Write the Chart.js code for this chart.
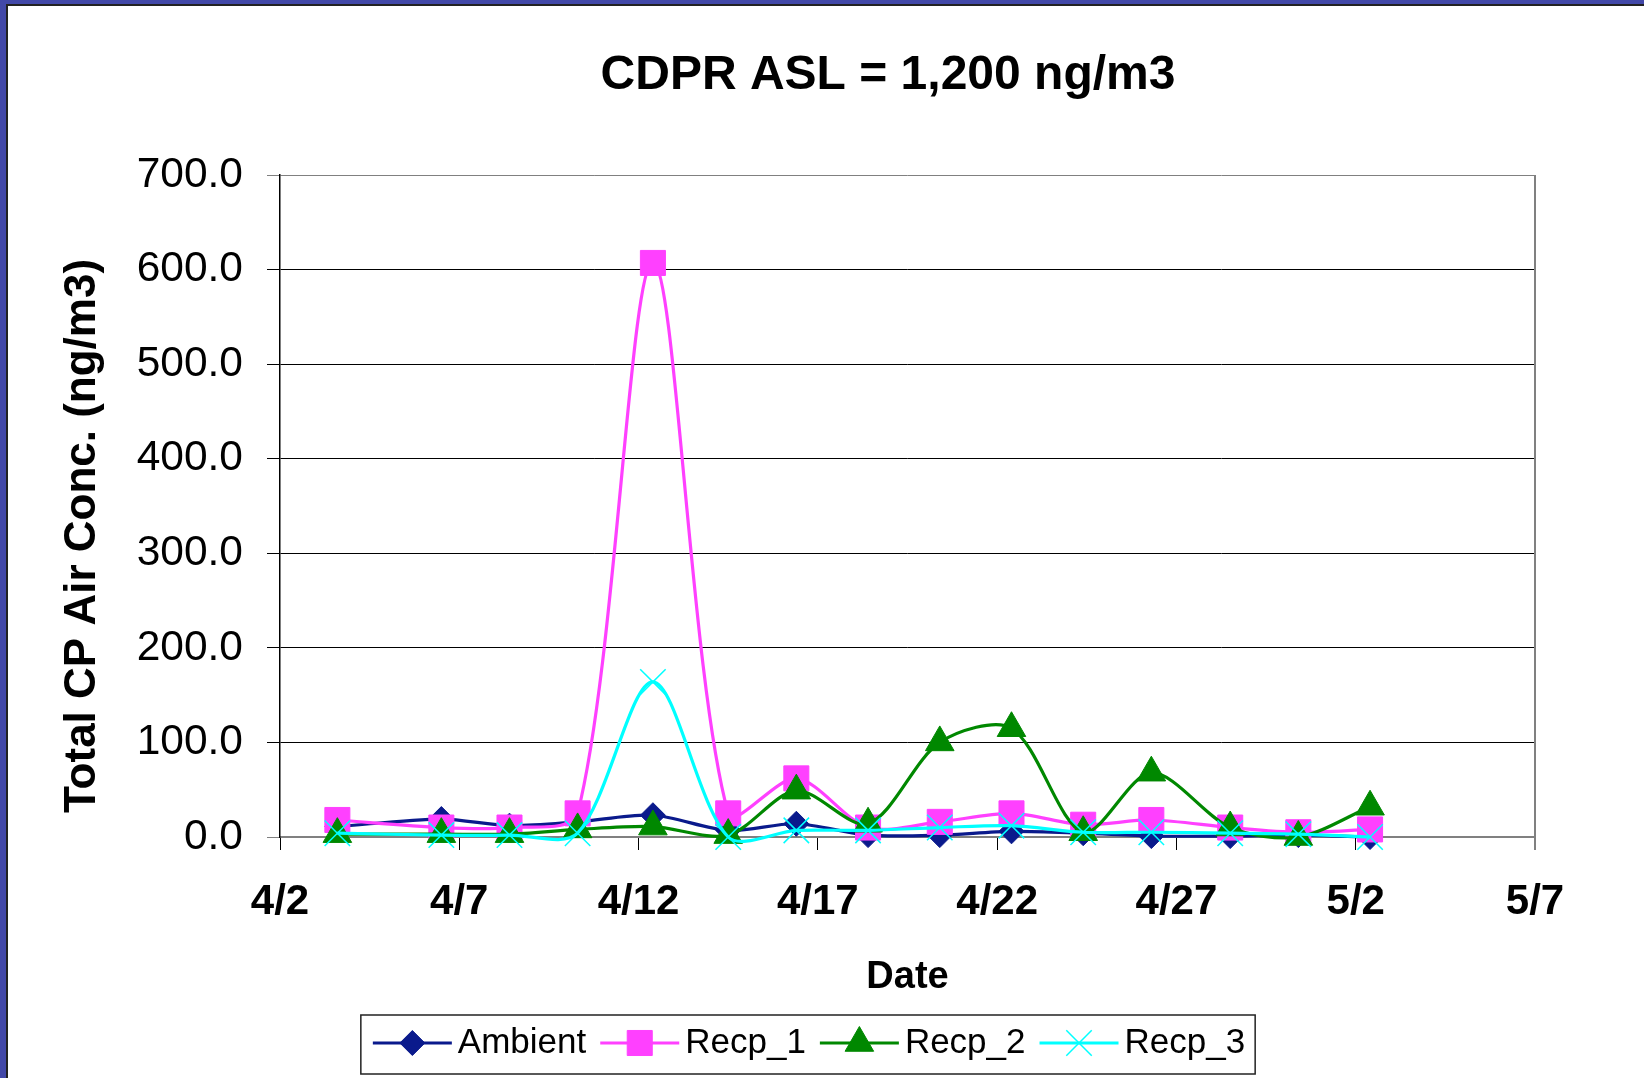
<!DOCTYPE html>
<html>
<head>
<meta charset="utf-8">
<script src="https://cdn.jsdelivr.net/npm/chart.js@4.4.0/dist/chart.umd.min.js"></script>
<style>
html,body{margin:0;padding:0;background:#fff;overflow:hidden;}
#wrap{position:absolute;left:0;top:0;width:1644px;height:1078px;}
canvas{display:block;}
</style>
</head>
<body>
<div id="wrap"><canvas id="c" width="1644" height="1078"></canvas></div>
<script>
// ---- data ----
const dayOffsets = [1.6, 4.5, 6.4, 8.3, 10.4, 12.5, 14.4, 16.4, 18.4, 20.4, 22.4, 24.3, 26.5, 28.4, 30.4]; // days after 4/2
const tickLabels = ['4/2', '4/7', '4/12', '4/17', '4/22', '4/27', '5/2', '5/7'];
const seriesNames = ['Ambient', 'Recp_1', 'Recp_2', 'Recp_3'];
const ambient = [11, 19, 12, 16, 23, 7, 14, 2, 2, 6, 4, 1, 1, 2, 0];
const recp1   = [18, 10, 10, 25, 607, 25, 62, 10, 16, 25, 13, 18, 10, 5, 8];
const recp2   = [3, 3, 3, 8, 11, 2, 49, 14, 100, 115, 5, 68, 10, 0, 32];
const recp3   = [4, 2, 2, 4, 164, 0, 7, 7, 10, 12, 5, 5, 4, 3, 0];

const FONT = "'Liberation Sans', Arial, sans-serif";
const colors = ['#0a1a8c', '#ff40ff', '#008800', '#00ffff'];
const styles = ['rectRot', 'rect', 'triangle', 'crossRot'];
const radii = [12.5, 17.7, 16.5, 18];

const mk = arr => arr.map((v, i) => ({x: dayOffsets[i], y: v}));
const seriesData = [ambient, recp1, recp2, recp3];

const datasets = seriesData.map((arr, i) => ({
  label: seriesNames[i],
  data: mk(arr),
  borderColor: colors[i],
  backgroundColor: colors[i],
  borderWidth: 3.2,
  pointStyle: styles[i],
  pointRadius: radii[i],
  pointHoverRadius: radii[i],
  pointBackgroundColor: colors[i],
  pointBorderColor: colors[i],
  pointBorderWidth: i === 3 ? 1.5 : 1,
  tension: 0.3,
  fill: false,
  clip: false,
  order: 4 - i
}));

function drawMarker(ctx, style, x, y, r, color) {
  ctx.save();
  ctx.fillStyle = color; ctx.strokeStyle = color; ctx.lineWidth = 1;
  ctx.beginPath();
  if (style === 'rectRot') {
    ctx.moveTo(x - r, y); ctx.lineTo(x, y - r); ctx.lineTo(x + r, y); ctx.lineTo(x, y + r); ctx.closePath();
    ctx.fill(); ctx.stroke();
  } else if (style === 'rect') {
    const s = r * Math.SQRT1_2; ctx.rect(x - s, y - s, 2 * s, 2 * s); ctx.fill(); ctx.stroke();
  } else if (style === 'triangle') {
    let a = 0;
    ctx.moveTo(x + Math.sin(a) * r, y - Math.cos(a) * r);
    a += 2 * Math.PI / 3; ctx.lineTo(x + Math.sin(a) * r, y - Math.cos(a) * r);
    a += 2 * Math.PI / 3; ctx.lineTo(x + Math.sin(a) * r, y - Math.cos(a) * r);
    ctx.closePath(); ctx.fill(); ctx.stroke();
  } else {
    const o = r * Math.SQRT1_2; ctx.lineWidth = 1.5;
    ctx.moveTo(x - o, y - o); ctx.lineTo(x + o, y + o);
    ctx.moveTo(x - o, y + o); ctx.lineTo(x + o, y - o); ctx.stroke();
  }
  ctx.restore();
}

const framePlugin = {
  id: 'frame',
  beforeDraw(chart) {
    const ctx = chart.ctx;
    ctx.save();
    ctx.fillStyle = '#ffffff'; ctx.fillRect(0, 0, chart.width, chart.height);
    ctx.fillStyle = '#4248a8';
    ctx.fillRect(0, 0, 6, chart.height);
    ctx.fillRect(0, 0, chart.width, 4);
    ctx.fillStyle = '#222222';
    ctx.fillRect(6, 4, 2, chart.height - 4);
    ctx.fillRect(6, 4, chart.width - 6, 2);
    ctx.restore();
  }
};

const shiftPlugin = {
  id: 'shift',
  afterLayout(chart) {
    const t = chart.titleBlock;
    if (t) { const d = 888 - (t.left + t.right) / 2; t.left += d; t.right += d; }
    const l = chart.legend;
    if (l) { const d = 809 - (l.left + l.right) / 2; l.left += d; l.right += d; }
    const ys = chart.scales.y;
    if (ys && !ys._titleWrapped) {
      const orig = ys.drawTitle;
      ys.drawTitle = function () {
        const b = this.bottom;
        this.bottom = b - 24;
        orig.call(this);
        this.bottom = b;
      };
      ys._titleWrapped = true;
    }
  }
};

const decorPlugin = {
  id: 'decor',
  afterDraw(chart) {
    const ctx = chart.ctx;
    const a = chart.chartArea;
    ctx.save();
    ctx.strokeStyle = '#808080'; ctx.lineWidth = 2;
    ctx.beginPath(); ctx.moveTo(a.right, a.top); ctx.lineTo(a.right, a.bottom + 13); ctx.stroke();
    ctx.restore();
    const lg = chart.legend;
    if (!lg || !lg.legendHitBoxes || !lg.legendHitBoxes.length) return;
    const hbs = lg.legendHitBoxes;
    lg.legendItems.forEach((item, k) => {
      const hb = hbs[k];
      const i = item.datasetIndex;
      const cy = hb.top + hb.height / 2;
      ctx.save();
      ctx.strokeStyle = colors[i]; ctx.lineWidth = 3.2;
      ctx.beginPath(); ctx.moveTo(hb.left, cy); ctx.lineTo(hb.left + 79, cy); ctx.stroke();
      ctx.restore();
      drawMarker(ctx, styles[i], hb.left + 39.5, cy, radii[i], colors[i]);
    });
    const first = hbs[0], last = hbs[hbs.length - 1];
    const bx = first.left - 12, by = first.top + first.height / 2 - 28;
    const bw = last.left + last.width + 10 - bx, bh = 59;
    ctx.save();
    ctx.strokeStyle = '#222222'; ctx.lineWidth = 1.5;
    ctx.strokeRect(bx, by, bw, bh);
    ctx.restore();
  }
};

Chart.defaults.font.family = FONT;
Chart.defaults.color = '#000000';

new Chart(document.getElementById('c'), {
  type: 'line',
  data: {datasets},
  plugins: [framePlugin, shiftPlugin, decorPlugin],
  options: {
    responsive: false,
    animation: false,
    devicePixelRatio: 1,
    layout: {padding: {left: 30, right: 109, top: 10, bottom: 7.5}},
    elements: {line: {capBezierPoints: false}},
    plugins: {
      tooltip: {enabled: false},
      title: {
        display: true,
        text: 'CDPR ASL = 1,200 ng/m3',
        color: '#000',
        font: {family: FONT, size: 48, weight: 'bold'},
        padding: {top: 37, bottom: 70.4}
      },
      legend: {
        display: true,
        position: 'bottom',
        labels: {
          font: {family: FONT, size: 35},
          color: '#000',
          boxWidth: 67.5,
          boxHeight: 2,
          padding: 14,
          generateLabels(chart) {
            const items = Chart.defaults.plugins.legend.labels.generateLabels(chart);
            items.sort((p, q) => p.datasetIndex - q.datasetIndex);
            items.forEach(it => { it.fillStyle = 'rgba(0,0,0,0)'; it.strokeStyle = 'rgba(0,0,0,0)'; it.lineWidth = 0; });
            return items;
          }
        }
      }
    },
    scales: {
      x: {
        type: 'linear',
        min: 0, max: 35,
        afterFit(scale) { scale.height = 174.5; },
        ticks: {
          stepSize: 5,
          autoSkip: false,
          maxRotation: 0,
          padding: 27,
          color: '#000',
          font: {family: FONT, size: 42, weight: 'bold'},
          callback: (v) => tickLabels[Math.round(v / 5)]
        },
        grid: {drawOnChartArea: false, drawTicks: true, tickLength: 13, color: '#000', lineWidth: 1},
        border: {display: true, color: '#808080', width: 2},
        title: {display: true, text: 'Date', color: '#000', font: {family: FONT, size: 38, weight: 'bold'}, padding: {top: 20, bottom: 10.7}}
      },
      y: {
        min: 0, max: 700,
        afterFit(scale) { scale.width = 250; },
        ticks: {
          stepSize: 100,
          padding: 24,
          color: '#000',
          font: {family: FONT, size: 42.5},
          callback: (v) => Number(v).toFixed(1)
        },
        grid: {
          drawTicks: true, tickLength: 13, lineWidth: 1,
          color: (c) => (c.tick && (c.tick.value === 700 || c.tick.value === 0)) ? '#808080' : '#000000'
        },
        border: {display: true, color: '#000', width: 1.5},
        title: {display: true, text: 'Total CP Air Conc. (ng/m3)', align: 'start', color: '#000', font: {family: FONT, size: 44, weight: 'bold'}, padding: {top: 26.8, bottom: 0}}
      }
    }
  }
});
</script>
</body>
</html>
